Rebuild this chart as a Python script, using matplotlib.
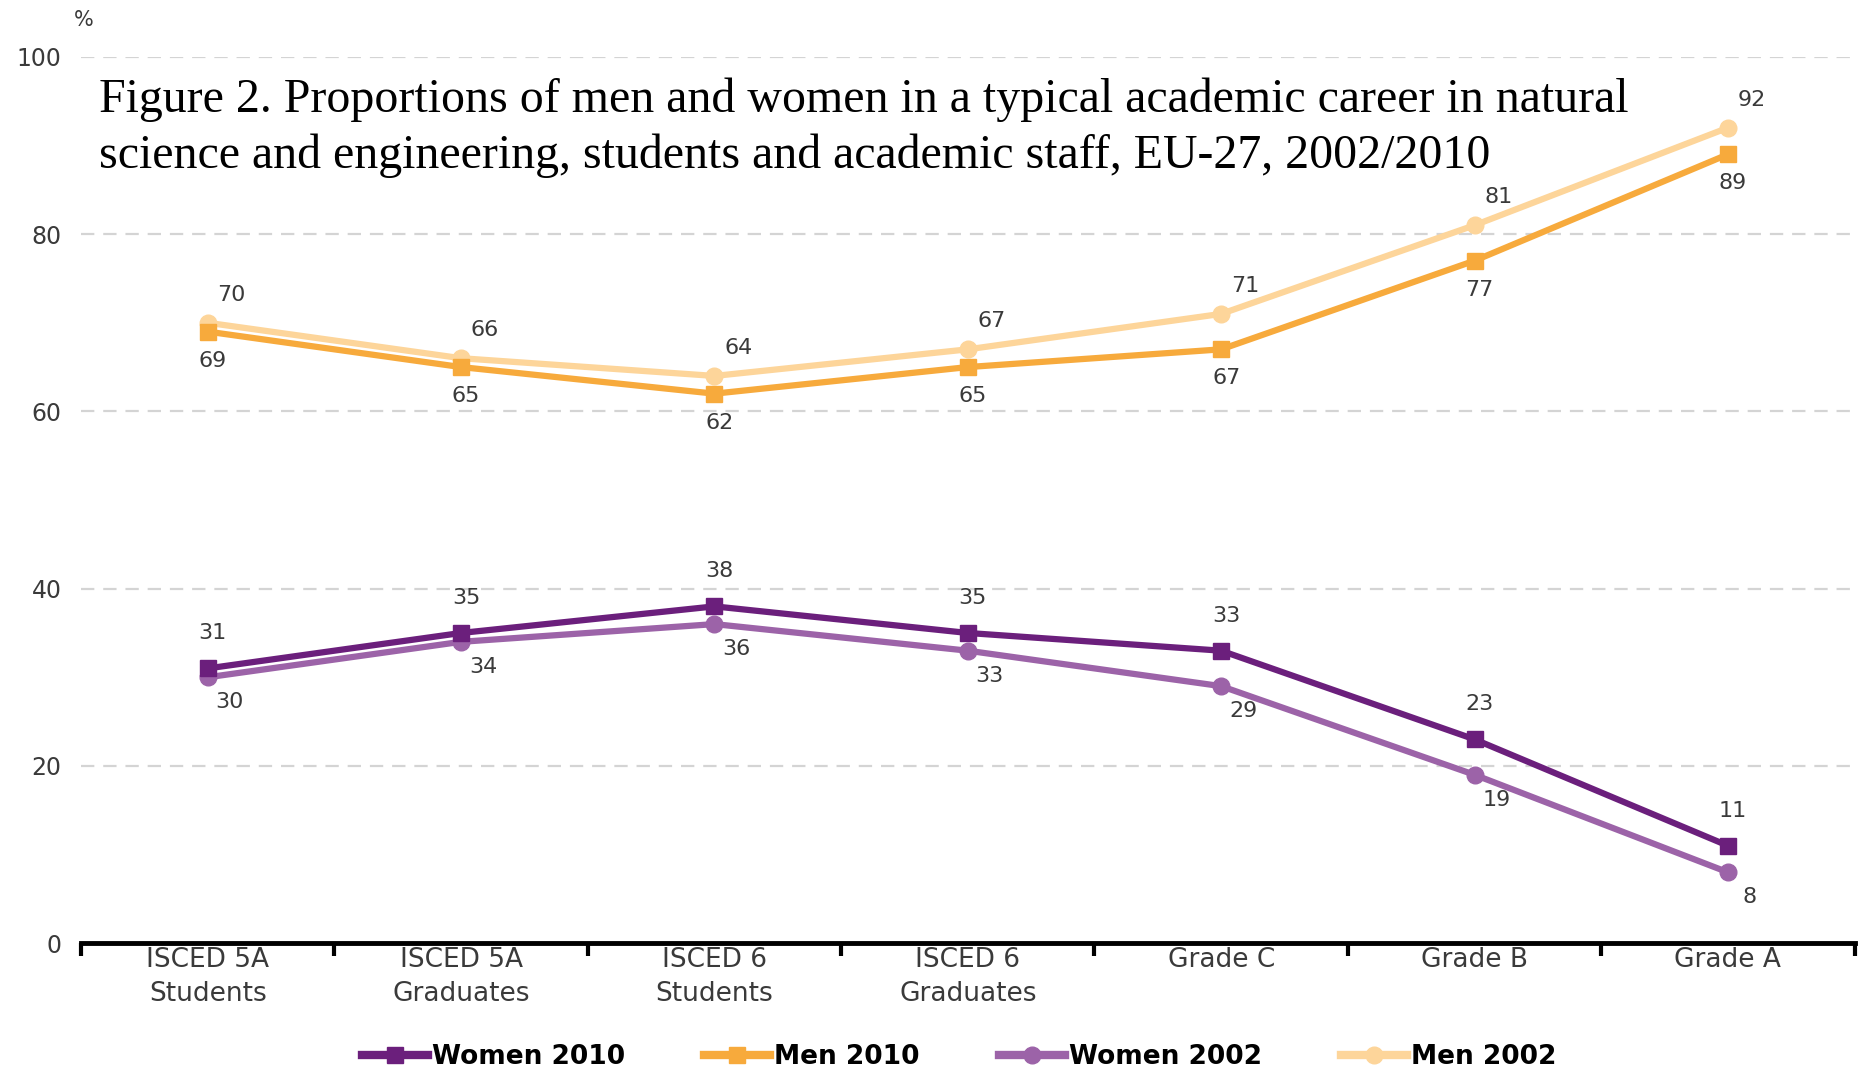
import matplotlib
matplotlib.use("Agg")
from matplotlib import pyplot as plt

categories = ["ISCED 5A\nStudents", "ISCED 5A\nGraduates", "ISCED 6\nStudents",
              "ISCED 6\nGraduates", "Grade C", "Grade B", "Grade A"]
women_2010 = [31, 35, 38, 35, 33, 23, 11]
men_2010 = [69, 65, 62, 65, 67, 77, 89]
women_2002 = [30, 34, 36, 33, 29, 19, 8]
men_2002 = [70, 66, 64, 67, 71, 81, 92]

c_w10 = "#6b1f7c"
c_m10 = "#f7aa3c"
c_w02 = "#9c63a8"
c_m02 = "#fdd59a"
label_col = "#3a3a3a"

fig = plt.figure(figsize=(18.62, 10.73), dpi=100)
ax = fig.add_axes([0.0435, 0.121, 0.9525, 0.826])

x = list(range(len(categories)))

# light series first, 2010 on top
ax.plot(x, men_2002, color=c_m02, lw=4.5, marker="o", ms=12, label="Men 2002", zorder=3)
ax.plot(x, men_2010, color=c_m10, lw=4.5, marker="s", ms=12, label="Men 2010", zorder=4)
ax.plot(x, women_2002, color=c_w02, lw=4.5, marker="o", ms=12, label="Women 2002", zorder=3)
ax.plot(x, women_2010, color=c_w10, lw=4.5, marker="s", ms=12, label="Women 2010", zorder=4)

def labels(vals, dx, dy):
    for i, v in enumerate(vals):
        ax.annotate(str(v), (i, v), xytext=(dx, dy), textcoords="offset pixels",
                    ha="center", va="center", fontsize=16, color=label_col)

labels(women_2010, 5, 35)
labels(women_2002, 22, -25)
labels(men_2010, 5, -29)
labels(men_2002, 24, 28)

ax.set_xlim(-0.5, 6.5)
ax.set_ylim(0, 100)
ax.set_yticks([0, 20, 40, 60, 80, 100])
ax.tick_params(axis="y", length=0, pad=14, labelsize=17, labelcolor=label_col)

ax.set_xticks(x)
ax.set_xticklabels(categories, family=["DejaVu Sans Condensed", "DejaVu Sans"],
                   fontsize=19, color=label_col, linespacing=1.4)
ax.set_xticks([i - 0.5 for i in range(len(categories) + 1)], minor=True)
ax.tick_params(axis="x", which="major", length=0, pad=3)
ax.tick_params(axis="x", which="minor", length=9, width=3, color="black", direction="out")

for s in ["top", "right", "left"]:
    ax.spines[s].set_visible(False)
ax.spines["bottom"].set_linewidth(3.5)
ax.spines["bottom"].set_color("black")

for yv in [20, 40, 60, 80, 100]:
    ax.axhline(yv, color="#d4d4d4", lw=1.6, ls=(0, (6, 4)), zorder=1)

fig.text(0.045, 0.981, "%", fontsize=15, color=label_col, ha="center", va="center")

fig.text(0.053, 0.896, "Figure 2. Proportions of men and women in a typical academic career in natural",
         family="Liberation Serif", fontsize=34.5, color="black", va="baseline")
fig.text(0.053, 0.843, "science and engineering, students and academic staff, EU-27, 2002/2010",
         family="Liberation Serif", fontsize=34.5, color="black", va="baseline")

h, l = ax.get_legend_handles_labels()
order = [3, 1, 2, 0]
leg = fig.legend([h[i] for i in order], [l[i] for i in order], loc="center",
                 bbox_to_anchor=(0.515, 0.015), ncol=4, frameon=False,
                 prop={"size": 19, "weight": "bold"}, handlelength=2.5,
                 handletextpad=0.15, columnspacing=3.0)
for line in leg.get_lines():
    line.set_linewidth(6)

plt.savefig("out.png", dpi=100)
